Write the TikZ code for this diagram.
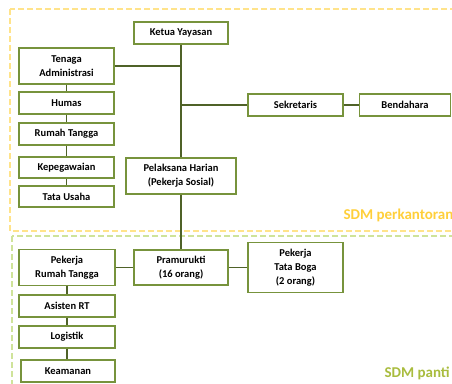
\documentclass[tikz,border=0pt]{standalone}
\usepackage{fontspec}
\setmainfont{Carlito}
\definecolor{boxline}{HTML}{77933C}
\definecolor{linkline}{HTML}{4F6228}
\definecolor{kantorframe}{HTML}{FFE38A}
\definecolor{pantiframe}{HTML}{CFE39A}
\definecolor{kantortext}{HTML}{FFCF3A}
\definecolor{pantitext}{HTML}{A9BC3E}
\tikzset{
  unit/.style={draw=boxline, line width=1.1pt, fill=white, align=center,
    inner sep=0pt, minimum width=95pt, minimum height=22pt,
    font=\bfseries\fontsize{10.5}{14}\selectfont},
  link/.style={draw=linkline, line width=1.6pt},
  frame/.style={dashed, dash pattern=on 6pt off 3pt, line width=1.6pt},
}
\begin{document}
\begin{tikzpicture}[x=1pt,y=-1pt]
  \useasboundingbox (0,0) rectangle (452,383);
  % dashed frames
  \draw[frame, kantorframe] (10,9) rectangle (470,231);
  \draw[frame, pantiframe] (12,236) rectangle (470,400);
  \node[anchor=west, text=kantortext, font=\bfseries\fontsize{15}{18}\selectfont] (lblkantor) at (340,215) {SDM perkantoran};
  \node[anchor=west, text=pantitext, font=\bfseries\fontsize{15}{18}\selectfont] (lblpanti) at (381,373) {SDM panti};
  % office units
  \node[unit, minimum width=94pt] (ketua) at (181,33) {Ketua Yayasan};
  \node[unit, minimum height=36pt] (tenaga) at (66.5,66) {Tenaga\\Administrasi};
  \node[unit] (humas) at (66.5,103) {Humas};
  \node[unit] (rumah) at (66.5,134) {Rumah Tangga};
  \node[unit, minimum height=21pt] (pegawai) at (66.5,167.5) {Kepegawaian};
  \node[unit, minimum height=21pt] (usaha) at (66.5,196.5) {Tata Usaha};
  \node[unit, minimum width=110pt, minimum height=36pt] (pelaksana) at (181,176) {Pelaksana Harian\\(Pekerja Sosial)};
  \node[unit] (sekretaris) at (295.5,105) {Sekretaris};
  \node[unit, minimum width=91pt] (bendahara) at (405,105) {Bendahara};
  % panti units
  \node[unit, minimum width=96pt, minimum height=36pt] (pekerjart) at (67,267.5) {Pekerja\\Rumah Tangga};
  \node[unit, minimum width=94pt, minimum height=35pt] (pramurukti) at (181,267.5) {Pramurukti\\(16 orang)};
  \node[unit, minimum height=50pt] (tataboga) at (295.5,267.5) {Pekerja\\Tata Boga\\(2 orang)};
  \node[unit, minimum width=96pt] (asisten) at (67,306) {Asisten RT};
  \node[unit, minimum width=96pt] (logistik) at (67,337) {Logistik};
  \node[unit, minimum width=94pt] (keamanan) at (68,371) {Keamanan};
  % connectors
  \draw[link] (ketua) -- (pelaksana) -- (pramurukti);
  \draw[link] (tenaga) -- (tenaga -| ketua);
  \draw[link] (sekretaris -| ketua) -- (sekretaris) -- (bendahara);
  \draw[link] (tenaga) -- (humas) -- (rumah) -- (pegawai) -- (usaha);
  \draw[link] (pekerjart) -- (pramurukti) -- (tataboga);
  \draw[link] (pekerjart) -- (asisten) -- (logistik) -- (logistik |- keamanan.north);
\end{tikzpicture}
\end{document}
